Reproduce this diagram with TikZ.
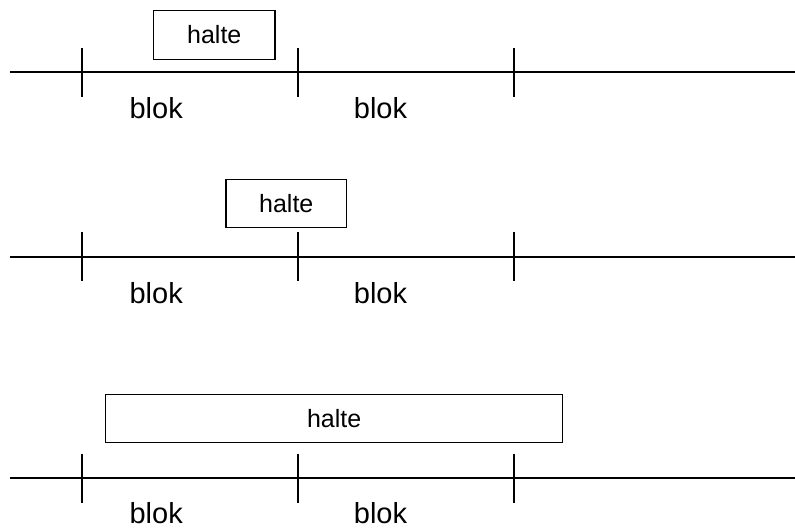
\documentclass[tikz,border=0pt]{standalone}
\usepackage{fontspec}
\setmainfont{Liberation Sans}
\begin{document}
\begin{tikzpicture}[x=1pt,y=-1pt,
  track/.style={line width=2pt},
  tick/.style={line width=1.6pt},
  haltebox/.style={draw,line width=1.3pt,inner sep=0pt,font=\fontsize{25}{25}\selectfont},
  bloklabel/.style={anchor=base,inner sep=0pt,font=\fontsize{29}{29}\selectfont}]
\useasboundingbox (0,0) rectangle (795,530);

% three rows: track height, tick half-length, label baseline
\foreach \r/\ty/\lb in {1/72/118.3, 2/256.7/303.3, 3/478.3/523.3}{
  \coordinate (L\r) at (10,\ty);
  \coordinate (R\r) at (795,\ty);
  \draw[track] (L\r) -- (R\r);
  \foreach \k/\tx in {a/82, b/298, c/514}{
    \coordinate (T\r\k top) at (\tx,\ty-24.5);
    \coordinate (T\r\k bot) at (\tx,\ty+24.5);
    \draw[tick] (T\r\k top) -- (T\r\k bot);
  }
  \node[bloklabel] (blok\r a) at (156.2,\lb) {blok};
  \node[bloklabel] (blok\r b) at (380.5,\lb) {blok};
}

% stop boxes
\node[haltebox,minimum width=121.3pt,minimum height=48.6pt] (halte1) at (214.3,35) {halte};
\node[haltebox,minimum width=120.7pt,minimum height=48pt] (halte2) at (286.3,203.3) {halte};
\node[haltebox,minimum width=457pt,minimum height=48pt] (halte3) at (334.2,418.7) {halte};
\end{tikzpicture}
\end{document}
